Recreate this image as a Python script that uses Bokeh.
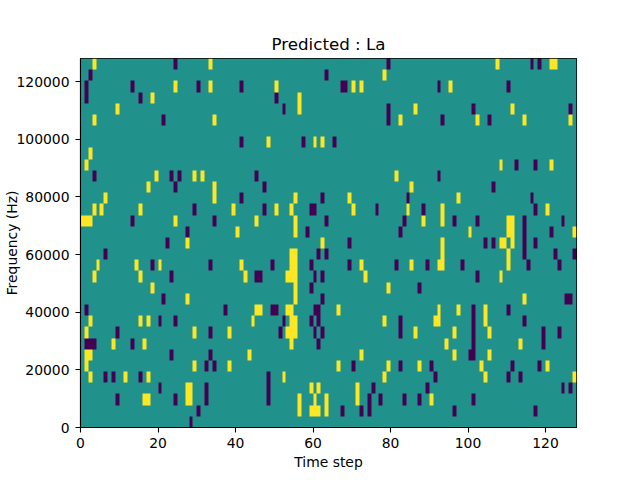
import numpy as np
from bokeh.embed import file_html
from bokeh.models import BasicTickFormatter, ColumnDataSource, FixedTicker, LinearColorMapper, Range1d
from bokeh.plotting import figure
from bokeh.resources import INLINE

TITLE = "Predicted : La"
X_LABEL = "Time step"
Y_LABEL = "Frequency (Hz)"
X_TICKS = [0, 20, 40, 60, 80, 100, 120]
Y_TICKS = [0, 20000, 40000, 60000, 80000, 100000, 120000]
N_STEPS = 128
MAX_FREQ = 128000
PALETTE = ["#440154", "#21918c", "#fde725"]

# Time steps holding the high (yellow) value, one list per frequency row, top row first
high_steps = [
    [3, 33, 107, 121, 122],
    [78],
    [24, 33, 50, 70, 72, 95],
    [18, 56],
    [9, 56, 86, 111],
    [3, 34, 82, 102, 114, 126],
    [],
    [48, 60, 62],
    [2],
    [1, 108, 121],
    [19, 29, 31, 81],
    [17, 34, 85],
    [6, 34, 55, 69, 97],
    [3, 5, 15, 39, 50, 54, 70, 84, 93, 120],
    [0, 1, 2, 24, 45, 55, 88, 93, 110, 111],
    [40, 55, 100, 110, 111, 127],
    [27, 62, 93, 108, 109, 111],
    [54, 55, 93, 110],
    [4, 14, 20, 41, 54, 55, 72, 85, 92, 93, 110],
    [3, 15, 42, 53, 54, 55, 73, 108],
    [18, 55, 79],
    [27, 55, 114],
    [45, 46, 53, 54, 66, 92, 97, 104],
    [2, 15, 17, 44, 54, 55, 78, 91, 92, 104],
    [1, 29, 38, 53, 54, 55, 86, 96, 105],
    [8, 16, 54, 94, 113],
    [1, 2, 43, 72, 96, 105],
    [1, 29, 38, 66, 79, 87, 103, 120],
    [2, 11, 17, 52, 78, 104, 127],
    [27, 28, 59, 61, 71],
    [16, 17, 27, 28, 56, 60, 63, 71, 90],
    [56, 59, 60, 61, 63],
    [],
]

# Time steps holding the low (purple) value, one list per frequency row, top row first
low_steps = [
    [24, 79, 116, 118],
    [2, 63],
    [1, 13, 30, 41, 67, 68, 92, 110],
    [1, 15, 50],
    [52, 79, 101, 126],
    [21, 79, 93, 105],
    [],
    [41, 57, 65],
    [],
    [112, 117],
    [3, 23, 25, 45, 92],
    [24, 47, 106],
    [41, 62, 84, 116],
    [29, 47, 59, 60, 76, 88, 117],
    [13, 34, 63, 83, 96, 102, 114, 124],
    [27, 58, 82, 114, 121],
    [22, 69, 104, 106, 114, 117],
    [6, 61, 63, 114, 122, 127],
    [18, 33, 49, 59, 69, 81, 89, 98, 115, 123],
    [23, 45, 46, 60, 62, 102],
    [59, 87],
    [21, 62, 125, 126],
    [1, 37, 49, 50, 60, 61, 101, 110],
    [20, 24, 52, 59, 61, 82, 101, 114],
    [9, 33, 51, 60, 62, 82, 101, 119, 123],
    [1, 2, 3, 13, 61, 101, 119],
    [23, 33, 100, 101],
    [32, 34, 70, 82, 90, 111, 118],
    [6, 8, 15, 48, 91, 110, 113],
    [20, 32, 48, 75, 89, 124, 126],
    [9, 24, 32, 48, 74, 77, 83, 87, 101],
    [30, 67, 72, 74, 96, 117],
    [28],
]

n_rows = len(high_steps)
grid = np.zeros((n_rows, N_STEPS))
for row in range(n_rows):
    grid[n_rows - 1 - row, high_steps[row]] = 1
    grid[n_rows - 1 - row, low_steps[row]] = -1

p = figure(
    width=640, height=480,
    output_backend="svg", toolbar_location=None,
    x_range=Range1d(0, N_STEPS), y_range=Range1d(0, MAX_FREQ),
    min_border_left=80, min_border_right=64, min_border_top=58, min_border_bottom=53,
    background_fill_color="#ffffff", border_fill_color="#ffffff",
)
p.title.text = TITLE
p.title.align = "center"
p.title.text_font = "DejaVu Sans"
p.title.text_font_size = "16.67px"
p.title.text_font_style = "normal"
p.title.text_color = "#000000"

mapper = LinearColorMapper(palette=PALETTE, low=-1, high=1)
source = ColumnDataSource(dict(image=[grid], x=[0], y=[0], dw=[N_STEPS], dh=[MAX_FREQ]))
p.image(image="image", x="x", y="y", dw="dw", dh="dh", color_mapper=mapper, source=source)

p.grid.visible = False
p.outline_line_color = "#000000"
p.outline_line_width = 1.1
p.outline_line_alpha = 1

p.xaxis.axis_label = X_LABEL
p.yaxis.axis_label = Y_LABEL
p.xaxis.ticker = FixedTicker(ticks=X_TICKS)
p.yaxis.ticker = FixedTicker(ticks=Y_TICKS)
p.yaxis.formatter = BasicTickFormatter(use_scientific=False)
for ax in (p.xaxis[0], p.yaxis[0]):
    ax.axis_line_color = "#000000"
    ax.axis_line_width = 1.1
    ax.major_tick_line_color = "#000000"
    ax.major_tick_line_width = 1.1
    ax.major_tick_out = 5
    ax.major_tick_in = 0
    ax.minor_tick_line_color = None
    ax.major_label_text_font = "DejaVu Sans"
    ax.major_label_text_font_size = "13.9px"
    ax.major_label_text_color = "#000000"
    ax.axis_label_text_font = "DejaVu Sans"
    ax.axis_label_text_font_size = "13.9px"
    ax.axis_label_text_font_style = "normal"
    ax.axis_label_text_color = "#000000"
p.yaxis[0].major_label_orientation = "horizontal"
p.yaxis[0].major_label_standoff = 6
p.xaxis[0].major_label_standoff = 5
p.yaxis[0].axis_label_standoff = -7
p.xaxis[0].axis_label_standoff = 3

open("out.html", "w").write(file_html(p, INLINE))
